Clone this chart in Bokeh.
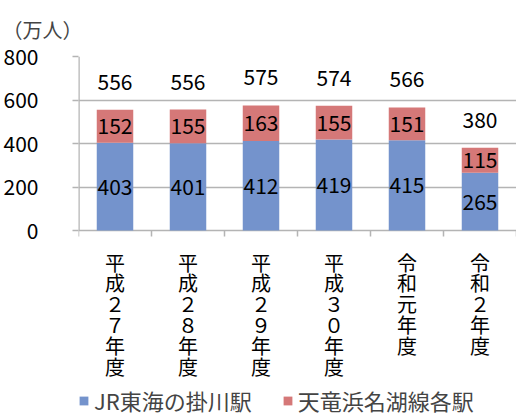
import math
from bokeh.plotting import figure
from bokeh.models import ColumnDataSource, Range1d, FixedTicker, Legend, LegendItem
from bokeh.core.properties import value
from bokeh.embed import file_html
from bokeh.resources import INLINE

categories = ["平成２７年度", "平成２８年度", "平成２９年度", "平成３０年度", "令和元年度", "令和２年度"]
jr = [403, 401, 412, 419, 415, 265]
tenhama = [152, 155, 163, 155, 151, 115]
totals = [556, 556, 575, 574, 566, 380]
y_ticks = [0, 200, 400, 600, 800]
series_names = ["JR東海の掛川駅", "天竜浜名湖線各駅"]
unit_label = "（万人）"

FONT = "Noto Sans CJK JP"
BLUE = "#7493CC"
RED = "#D57878"
GRID = "#B4B4B4"

n = len(categories)
xs = [i + 0.5 for i in range(n)]
bounds = list(range(n + 1))
stack_top = [a + b for a, b in zip(jr, tenhama)]
src = ColumnDataSource(dict(
    x=xs, jr=jr, ten=tenhama, top=stack_top, total=totals,
    base=[y_ticks[0]] * n,
    jr_mid=[a / 2 for a in jr],
    ten_mid=[a + b / 2 for a, b in zip(jr, tenhama)],
    jr_txt=[str(v) for v in jr],
    ten_txt=[str(v) for v in tenhama],
    tot_txt=[str(v) for v in totals],
    cat_txt=["\n".join(c) for c in categories],
))

# lower part of the frame holds the category labels and legend
p = figure(width=516, height=416, output_backend="svg", toolbar_location=None,
           x_range=Range1d(0, n), y_range=Range1d(-855, y_ticks[-1]),
           x_axis_location=None,
           min_border_left=0, min_border_right=0, min_border_top=8, min_border_bottom=0)
p.outline_line_color = None
p.background_fill_color = "white"
p.border_fill_color = "white"

p.title.text = unit_label
p.title.text_font = FONT
p.title.text_font_size = "20px"
p.title.text_font_style = "normal"
p.title.align = "left"
p.title.offset = -76
p.title.standoff = 25

p.xgrid.grid_line_color = None
p.ygrid.ticker = FixedTicker(ticks=y_ticks)
p.ygrid.grid_line_color = GRID
p.ygrid.grid_line_width = 1.5

r1 = p.vbar(x="x", bottom=0, top="jr", width=0.5, source=src, fill_color=BLUE, line_color=None)
r2 = p.vbar(x="x", bottom="jr", top="top", width=0.5, source=src, fill_color=RED, line_color=None)

# y axis line and category boundary ticks
p.segment(x0=[bounds[0]], y0=[y_ticks[0]], x1=[bounds[0]], y1=[y_ticks[-1]],
          line_color=GRID, line_width=2.5)
p.ray(x=bounds, y=[y_ticks[0]] * len(bounds), length=6, length_units="screen",
      angle=-math.pi / 2, line_color=GRID, line_width=1.5)

common = dict(text_font=value(FONT), text_font_size="21px", text_color="black",
              text_align="center", text_baseline="middle", source=src)
p.text(x="x", y="jr_mid", text="jr_txt", **common)
p.text(x="x", y="ten_mid", text="ten_txt", **common)
p.text(x="x", y="total", text="tot_txt", y_offset=-28, **common)

# category labels (vertical, one character per line)
p.text(x="x", y="base", text="cat_txt", source=src, y_offset=17,
       text_font=value(FONT), text_font_size="20px", text_color="black",
       text_align="center", text_baseline="top", text_line_height=0.72)

# y axis
yax = p.yaxis[0]
yax.ticker = FixedTicker(ticks=y_ticks, minor_ticks=[])
yax.axis_line_color = None
yax.major_tick_line_color = GRID
yax.major_tick_line_width = 1.5
yax.major_tick_out = 6
yax.major_tick_in = 0
yax.minor_tick_line_color = None
yax.major_label_text_font = FONT
yax.major_label_text_font_size = "21px"
yax.major_label_text_color = "black"
yax.major_label_standoff = 34

legend = Legend(items=[LegendItem(label=series_names[0], renderers=[r1]),
                       LegendItem(label=series_names[1], renderers=[r2])],
                orientation="horizontal", location=(0, 0),
                label_text_font=FONT, label_text_font_size="22px",
                glyph_width=11, glyph_height=11, label_standoff=5, spacing=30,
                padding=0, margin=0, border_line_color=None,
                background_fill_alpha=0)
p.add_layout(legend, "center")

open("out.html", "w").write(file_html(p, INLINE))
